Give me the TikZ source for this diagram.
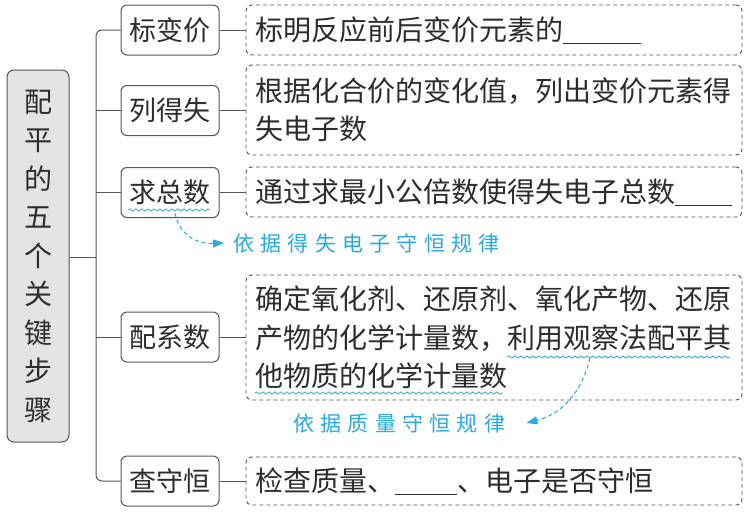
\documentclass[tikz,border=0pt]{standalone}
\usepackage{fontspec}
\setmainfont{Noto Sans CJK SC}
\newfontfamily\hand[LetterSpace=30]{Noto Sans CJK SC}
\usetikzlibrary{decorations.pathmorphing,arrows.meta}
\definecolor{ink}{RGB}{45,45,45}
\definecolor{edge}{RGB}{85,85,85}
\definecolor{anno}{RGB}{40,170,225}
\definecolor{pale}{RGB}{228,228,228}
\tikzset{
 stepbox/.style={draw=edge, line width=1pt, rounded corners=6pt, minimum width=98pt, minimum height=50pt, inner sep=0pt, font=\fontsize{27pt}{32pt}\selectfont, text=ink},
 descbox/.style={draw=edge, line width=0.9pt, dash pattern=on 4pt off 3pt, rounded corners=6pt, minimum width=496pt, inner xsep=9pt, inner ysep=0pt, text width=478pt, align=left, font=\fontsize{28pt}{38.5pt}\selectfont, text=ink},
 link/.style={draw=edge, line width=1pt},
 wavy/.style={draw=anno, line width=0.8pt, decorate, decoration={snake, segment length=6pt, amplitude=1.1pt}},
 hint/.style={draw=anno, line width=1pt, dash pattern=on 4pt off 3pt, -{Triangle[length=11pt,width=8pt]}},
 hinttext/.style={text=anno, font=\hand\fontsize{21pt}{24pt}\selectfont, inner sep=0pt},
}
\newcommand{\blank}[1]{\rule[-3pt]{#1}{0.8pt}}
\begin{document}
\begin{tikzpicture}[x=1pt,y=-1pt]
\fill[white] (0,0) rectangle (754,522);
\useasboundingbox (0,0) rectangle (754,522);

\node[draw=edge, fill=pale, rounded corners=7pt, line width=1pt, minimum width=62pt, minimum height=372pt, inner sep=0pt, align=center, font=\fontsize{28pt}{38.5pt}\selectfont, text=ink] (root) at (38,256) {配\\平\\的\\五\\个\\关\\键\\步\\骤};

\node[stepbox] (s1) at (170,30) {标变价};
\node[stepbox] (s2) at (170,110.5) {列得失};
\node[stepbox] (s3) at (170,192.5) {求总数};
\node[stepbox] (s4) at (170,337) {配系数};
\node[stepbox] (s5) at (170,481) {查守恒};

\node[descbox, minimum height=50pt] (d1) at (494,30) {标明反应前后变价元素的\blank{78pt}};
\node[descbox, minimum height=90pt] (d2) at (494,110) {根据化合价的变化值，列出变价元素得\\失电子数};
\node[descbox, minimum height=50pt] (d3) at (494,192) {通过求最小公倍数使得失电子总数\blank{57pt}};
\node[descbox, minimum height=125pt] (d4) at (494,337.5) {确定氧化剂、还原剂、氧化产物、还原\\产物的化学计量数，利用观察法配平其\\他物质的化学计量数};
\node[descbox, minimum height=48pt] (d5) at (494,481) {检查质量、\blank{62pt}、电子是否守恒};

\coordinate (tj) at (96,257);
\draw[link] (root.east |- tj) -- (tj);
\draw[link, rounded corners=6pt] (s1.west) -- (s1.west -| tj) -- (s5.west -| tj) -- (s5.west);
\draw[link] (s2.west -| tj) -- (s2.west);
\draw[link] (s3.west -| tj) -- (s3.west);
\draw[link] (s4.west -| tj) -- (s4.west);
\foreach \i in {1,...,5} {\draw[link] (s\i.east) -- (s\i.east -| d\i.west);}

\draw[wavy] (128,210) -- (210,210);
\draw[wavy] (507,357) -- (730,357);
\draw[wavy] (255,393) -- (503,393);

\node[hinttext, anchor=west] (n1) at (233,243) {依据得失电子守恒规律};
\node[hinttext, anchor=west] (n2) at (293,423) {依据质量守恒规律};
\coordinate (h1) at (175,213);
\coordinate (h2) at (590,358);
\draw[hint] (h1) .. controls (180,238) and (200,244) .. ([xshift=-9pt]n1.west);
\draw[hint] (h2) .. controls (582,392) and (562,414) .. ([xshift=21pt]n2.east);
\end{tikzpicture}
\end{document}
